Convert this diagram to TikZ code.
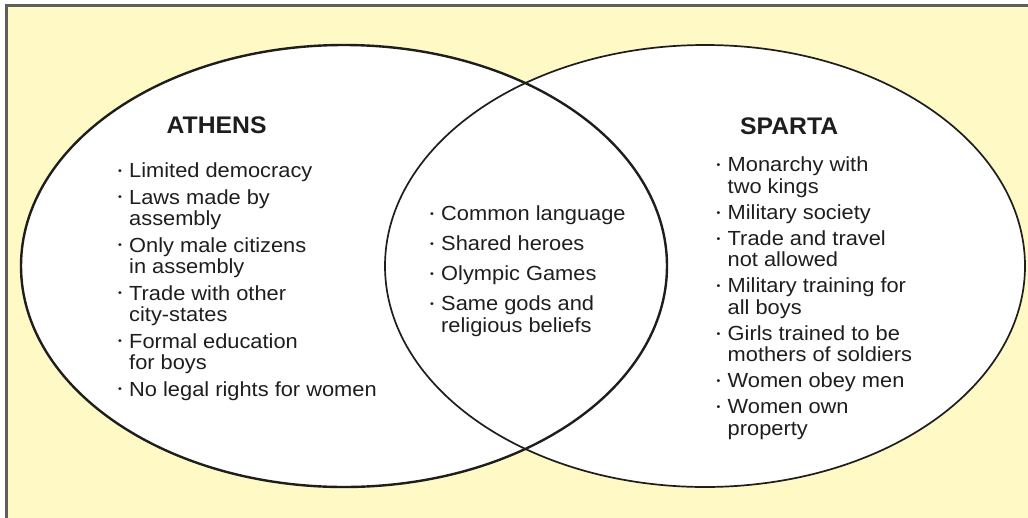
\documentclass[tikz,border=0pt]{standalone}
\usepackage{fontspec}
\setmainfont{Liberation Sans}[FakeStretch=1.07]
\newfontfamily\headfont{Liberation Sans}[FakeStretch=1.03]
\definecolor{paleyellow}{HTML}{FFF9C6}
\definecolor{framegray}{HTML}{5E5E5E}
\definecolor{inkgray}{HTML}{1E1E1E}
\newcommand{\bl}{\makebox[12pt][l]{\hspace*{1pt}\raisebox{0.17em}{\scalebox{0.5}{\textbullet}}}}
\newcommand{\ind}{\hspace*{12pt}}

\begin{document}
\begin{tikzpicture}[x=1pt, y=-1pt,
    heading/.style={anchor=base west, inner sep=0pt, text=inkgray, font=\headfont\bfseries\fontsize{24}{26}\selectfont},
    facts/.style={anchor=north west, inner sep=0pt, align=left, text=inkgray, font=\fontsize{20.4}{21.5}\selectfont}]
    \clip (0,0) rectangle (1028,517);
    \draw[framegray, line width=3pt, fill=paleyellow] (6,5) rectangle (1060,560);
    \fill[white] (344,266) ellipse [x radius=323, y radius=221];
    \fill[white] (705,266) ellipse [x radius=320, y radius=221];
    \draw[line width=1.7pt, inkgray] (705,266) ellipse [x radius=320, y radius=221];
    \draw[line width=2.4pt, inkgray] (344,266) ellipse [x radius=323, y radius=221];
    \node[heading] (athens) at (166.5,133.3) {ATHENS};
    \node[heading] (sparta) at (740,134) {SPARTA};
    \node[facts] (athens facts) at (117,162.7) {%
        \bl Limited democracy\\[5pt]
        \bl Laws made by\\ \ind assembly\\[5pt]
        \bl Only male citizens\\ \ind in assembly\\[5pt]
        \bl Trade with other\\ \ind city-states\\[5pt]
        \bl Formal education\\ \ind for boys\\[5pt]
        \bl No legal rights for women};
    \node[facts] (shared facts) at (429,206) {%
        \bl Common language\\[8.5pt]
        \bl Shared heroes\\[8.5pt]
        \bl Olympic Games\\[8.5pt]
        \bl Same gods and\\ \ind religious beliefs};
    \node[facts] (sparta facts) at (715.5,157) {%
        \bl Monarchy with\\ \ind two kings\\[4.5pt]
        \bl Military\ society\\[4.5pt]
        \bl Trade and travel\\ \ind not allowed\\[4.5pt]
        \bl Military training for\\ \ind all boys\\[4.5pt]
        \bl Girls trained to be\\ \ind mothers of soldiers\\[4.5pt]
        \bl Women obey men\\[4.5pt]
        \bl Women own\\ \ind property};
\end{tikzpicture}
\end{document}
